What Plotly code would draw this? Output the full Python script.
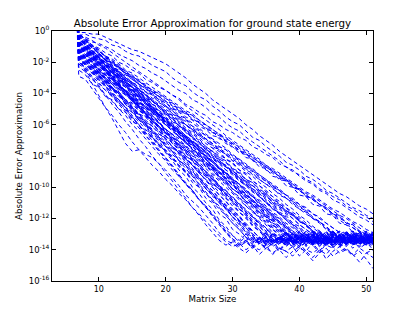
import plotly.graph_objects as go

# Matrix sizes (x); size 6 is an off-scale starting value for every series
matrix_sizes = list(range(6, 52))
log_err_at_size_6 = 10.0

# log10 of the absolute error for sizes 7..51
log_err_a1 = [-0.1,-0.1,-0.2,-0.2,-0.4, -0.6,-0.8,-1.0,-1.2,-1.3, -1.5,-1.7,-1.9,-2.1,-2.4, -2.7,-3.0,-3.4,-3.7,-4.0, -4.4,-4.7,-5.0,-5.3,-5.6, -6.0,-6.3,-6.7,-7.0,-7.3, -7.7,-8.0,-8.3,-8.6,-8.9, -9.2,-9.5,-9.8,-10.1,-10.4, -10.6,-10.9,-11.2,-11.4,-11.7]
log_err_a2 = [-0.3,-0.2,-0.4,-0.5,-0.6, -0.9,-1.0,-1.3,-1.5,-1.6, -1.9,-2.2,-2.4,-2.6,-3.0, -3.3,-3.5,-3.9,-4.2,-4.4, -4.8,-5.1,-5.5,-5.8,-6.0, -6.4,-6.8,-7.0,-7.4,-7.7, -8.0,-8.4,-8.6,-8.9,-9.3, -9.5,-9.8,-10.2,-10.4,-10.7, -11.0,-11.3,-11.5,-11.8,-12.0]
log_err_a3 = [-0.2,-0.5,-0.7,-0.8,-1.0, -1.2,-1.5,-1.7,-1.9,-2.2, -2.4,-2.7,-2.9,-3.2,-3.5, -3.8,-4.0,-4.4,-4.6,-4.9, -5.3,-5.5,-5.9,-6.2,-6.4, -6.8,-7.1,-7.4,-7.7,-8.0, -8.3,-8.7,-8.9,-9.3,-9.6, -9.8,-10.2,-10.4,-10.8,-11.0, -11.3,-11.6,-11.9,-12.1,-12.4]
log_err_a4 = [-0.5,-0.7,-1.0,-1.3,-1.6, -1.8,-2.1,-2.5,-2.7,-3.0, -3.3,-3.6,-3.9,-4.2,-4.5, -4.8,-5.1,-5.3,-5.7,-6.0, -6.3,-6.6,-6.9,-7.1,-7.5, -7.8,-8.1,-8.4,-8.7,-9.0, -9.3,-9.6,-9.9,-10.2,-10.5, -10.8,-11.1,-11.4,-11.7,-12.0, -12.2,-12.6,-12.8,-13.1,-13.0]
log_err_a5 = [-0.8,-1.0,-1.3,-1.6,-1.8, -2.1,-2.4,-2.7,-2.9,-3.2, -3.5,-3.8,-4.0,-4.3,-4.6, -4.9,-5.2,-5.4,-5.7,-6.0, -6.3,-6.6,-6.8,-7.2,-7.4, -7.7,-8.0,-8.3,-8.6,-8.8, -9.1,-9.4,-9.7,-10.0,-10.3, -10.5,-10.8,-11.1,-11.4,-11.6, -11.9,-12.2,-12.4,-12.7,-12.9]
log_err_a6 = [-0.3,-0.4,-0.6,-0.9,-1.1, -1.4,-1.7,-2.0,-2.3,-2.6, -2.9,-3.2,-3.5,-3.8,-4.1, -4.4,-4.8,-5.1,-5.4,-5.7, -6.0,-6.3,-6.7,-7.0,-7.3, -7.6,-7.9,-8.2,-8.6,-8.9, -9.2,-9.5,-9.8,-10.2,-10.5, -10.8,-11.1,-11.4,-11.8,-12.1, -12.4,-12.6,-12.9,-13.2,-13.1]
log_err_a7 = [-1.0,-1.2,-1.5,-1.8,-2.2, -2.5,-2.8,-3.1,-3.4,-3.7, -4.1,-4.4,-4.7,-5.0,-5.3, -5.6,-6.0,-6.3,-6.6,-6.9, -7.3,-7.6,-7.9,-8.2,-8.5, -8.8,-9.2,-9.5,-9.8,-10.1, -10.4,-10.7,-11.1,-11.4,-11.7, -12.0,-12.3,-12.7,-13.0,-13.2, -13.4,-13.1,-13.3,-13.5,-13.2]
log_err_a8 = [-0.4,-0.6,-0.9,-1.2,-1.6, -1.9,-2.2,-2.6,-2.9,-3.2, -3.6,-3.9,-4.2,-4.6,-4.9, -5.2,-5.6,-5.9,-6.2,-6.6, -6.9,-7.2,-7.5,-7.9,-8.2, -8.5,-8.9,-9.2,-9.5,-9.9, -10.2,-10.5,-10.9,-11.2,-11.5, -11.9,-12.2,-12.5,-12.9,-13.1, -13.3,-13.0,-13.4,-13.2,-13.6]
log_err_b1 = [-0.7,-1.1,-1.4,-1.7,-2.1, -2.4,-2.8,-3.1,-3.4,-3.8, -4.1,-4.5,-4.8,-5.2,-5.5, -5.8,-6.2,-6.5,-6.8,-7.2, -7.5,-7.9,-8.2,-8.5,-8.9, -9.2,-9.6,-9.9,-10.2,-10.6, -10.9,-11.3,-11.6,-11.9,-12.3, -12.6,-12.9,-13.2,-13.5,-13.3, -13.1,-13.4,-13.6,-13.2,-13.4]
log_err_b2 = [-1.2,-1.5,-1.9,-2.2,-2.6, -2.9,-3.3,-3.6,-4.0,-4.3, -4.7,-5.0,-5.4,-5.7,-6.1, -6.4,-6.8,-7.1,-7.5,-7.8, -8.2,-8.5,-8.9,-9.2,-9.6, -9.9,-10.3,-10.6,-11.0,-11.3, -11.7,-12.0,-12.4,-12.7,-13.1, -13.4,-13.2,-13.5,-13.7,-13.3, -13.5,-13.2,-13.6,-13.4,-13.1]
log_err_b3 = [-0.5,-0.9,-1.3,-1.5,-1.9, -2.3,-2.7,-3.0,-3.3,-3.8, -4.1,-4.4,-4.8,-5.2,-5.5, -5.9,-6.3,-6.6,-6.9,-7.4, -7.7,-8.0,-8.4,-8.8,-9.1, -9.5,-9.9,-10.2,-10.5,-11.0, -11.3,-11.6,-12.0,-12.4,-12.7, -13.1,-13.3,-13.0,-13.4,-13.6, -13.2,-13.5,-13.3,-13.7,-13.4]
log_err_b4 = [-0.9,-1.3,-1.6,-2.0,-2.4, -2.8,-3.1,-3.5,-3.9,-4.2, -4.6,-5.0,-5.4,-5.7,-6.1, -6.5,-6.8,-7.2,-7.6,-8.0, -8.3,-8.7,-9.1,-9.4,-9.8, -10.2,-10.5,-10.9,-11.3,-11.7, -12.0,-12.4,-12.8,-13.1,-13.4, -13.2,-13.6,-13.3,-13.5,-13.8, -13.4,-13.2,-13.5,-13.7,-13.3]
log_err_b5 = [-0.3,-0.7,-1.1,-1.4,-1.8, -2.2,-2.6,-3.0,-3.4,-3.7, -4.1,-4.5,-4.9,-5.3,-5.6, -6.0,-6.4,-6.8,-7.2,-7.6, -7.9,-8.3,-8.7,-9.1,-9.5, -9.8,-10.2,-10.6,-11.0,-11.4, -11.7,-12.1,-12.5,-12.9,-13.2, -13.5,-13.3,-13.6,-13.1,-13.4, -13.6,-13.3,-13.5,-13.2,-13.4]
log_err_b6 = [-1.4,-1.8,-2.2,-2.6,-3.0, -3.3,-3.7,-4.1,-4.5,-4.9, -5.3,-5.7,-6.1,-6.5,-6.9, -7.3,-7.6,-8.0,-8.4,-8.8, -9.2,-9.6,-10.0,-10.4,-10.8, -11.2,-11.6,-11.9,-12.3,-12.7, -13.1,-13.4,-13.2,-13.6,-13.3, -13.5,-13.8,-13.4,-13.2,-13.5, -13.3,-13.6,-13.4,-13.1,-13.5]
log_err_b7 = [-0.6,-1.0,-1.4,-1.8,-2.2, -2.6,-3.0,-3.4,-3.8,-4.2, -4.6,-5.0,-5.4,-5.8,-6.2, -6.6,-7.0,-7.4,-7.8,-8.2, -8.6,-9.0,-9.4,-9.8,-10.2, -10.6,-11.0,-11.4,-11.8,-12.2, -12.6,-13.0,-13.3,-13.5,-13.2, -13.4,-13.7,-13.3,-13.5,-13.2, -13.4,-13.6,-13.3,-13.5,-13.8]
log_err_b8 = [-1.0,-1.5,-1.8,-2.3,-2.6, -3.1,-3.4,-3.9,-4.2,-4.7, -5.1,-5.4,-5.9,-6.3,-6.6, -7.1,-7.5,-7.8,-8.3,-8.6, -9.1,-9.5,-9.8,-10.3,-10.7, -11.0,-11.5,-11.9,-12.2,-12.7, -13.0,-13.4,-13.2,-13.6,-13.3, -13.1,-13.5,-13.4,-13.7,-13.2, -13.5,-13.3,-13.6,-13.4,-13.2]
log_err_b9 = [-0.4,-0.9,-1.2,-1.7,-2.0, -2.5,-2.9,-3.2,-3.7,-4.1, -4.5,-4.9,-5.3,-5.8,-6.1, -6.6,-6.9,-7.4,-7.8,-8.2, -8.7,-9.0,-9.5,-9.8,-10.3, -10.7,-11.1,-11.6,-11.9,-12.4, -12.8,-13.1,-13.4,-13.2,-13.5, -13.3,-13.6,-13.2,-13.4,-13.7, -13.3,-13.5,-13.1,-13.4,-13.6]
log_err_b10 = [-1.6,-1.9,-2.4,-2.7,-3.0, -3.4,-3.8,-4.1,-4.4,-4.9, -5.2,-5.5,-5.9,-6.3,-6.6, -6.9,-7.4,-7.7,-8.0,-8.4, -8.8,-9.1,-9.4,-9.9,-10.2, -10.5,-10.9,-11.3,-11.6,-12.0, -12.3,-12.7,-13.0,-13.4,-13.2, -13.5,-13.3,-13.6,-13.4,-13.1, -13.4,-13.7,-13.3,-13.5,-13.2]
log_err_b11 = [-0.8,-1.1,-1.6,-1.9,-2.3, -2.6,-3.1,-3.4,-3.8,-4.2, -4.6,-4.9,-5.4,-5.7,-6.1, -6.5,-6.8,-7.3,-7.6,-8.0, -8.4,-8.8,-9.1,-9.6,-9.9, -10.3,-10.6,-11.1,-11.4,-11.8, -12.2,-12.5,-13.0,-13.3,-13.6, -13.3,-13.1,-13.5,-13.8,-13.4, -13.2,-13.5,-13.3,-13.6,-13.4]
log_err_b12 = [-1.8,-2.1,-2.6,-2.9,-3.4, -3.7,-4.2,-4.5,-5.0,-5.3, -5.8,-6.1,-6.6,-6.9,-7.4, -7.7,-8.2,-8.5,-9.0,-9.3, -9.8,-10.1,-10.6,-10.9,-11.4, -11.7,-12.2,-12.5,-13.0,-13.3, -13.5,-13.2,-13.6,-13.4,-13.1, -13.4,-13.7,-13.3,-13.5,-13.2, -13.6,-13.4,-13.2,-13.5,-13.3]
log_err_b13 = [-0.2,-0.6,-0.9,-1.3,-1.6, -2.0,-2.3,-2.7,-3.0,-3.4, -3.7,-4.1,-4.4,-4.8,-5.1, -5.5,-5.8,-6.2,-6.5,-6.9, -7.2,-7.6,-7.9,-8.3,-8.6, -9.0,-9.3,-9.7,-10.0,-10.4, -10.7,-11.1,-11.4,-11.8,-12.1, -12.5,-12.8,-13.2,-13.4,-13.1, -13.3,-13.6,-13.2,-13.4,-13.5]
log_err_b14 = [-1.2,-1.7,-1.9,-2.4,-2.7, -3.0,-3.5,-3.8,-4.1,-4.6, -4.9,-5.2,-5.7,-6.0,-6.4, -6.8,-7.1,-7.5,-7.9,-8.2, -8.6,-9.0,-9.3,-9.7,-10.1, -10.4,-10.8,-11.2,-11.5,-11.9, -12.3,-12.6,-13.0,-13.3,-13.5, -13.2,-13.4,-13.7,-13.3,-13.1, -13.4,-13.2,-13.6,-13.3,-13.5]
log_err_b15 = [-1.5,-1.8,-2.2,-2.4,-2.9, -3.1,-3.5,-3.8,-4.1,-4.5, -4.8,-5.1,-5.4,-5.8,-6.1, -6.4,-6.8,-7.1,-7.4,-7.8, -8.1,-8.4,-8.7,-9.1,-9.4, -9.7,-10.1,-10.4,-10.7,-11.1, -11.4,-11.7,-12.0,-12.4,-12.7, -13.0,-13.4,-13.2,-13.5,-13.3, -13.6,-13.2,-13.4,-13.1,-13.4]
log_err_b16 = [-0.2,-0.6,-1.1,-1.4,-1.9, -2.2,-2.7,-3.1,-3.5,-3.9, -4.3,-4.7,-5.1,-5.5,-5.9, -6.4,-6.8,-7.2,-7.6,-8.0, -8.4,-8.8,-9.2,-9.6,-10.0, -10.5,-10.9,-11.3,-11.7,-12.1, -12.5,-12.9,-13.3,-13.1,-13.5, -13.3,-13.6,-13.2,-13.4,-13.3, -13.5,-13.2,-13.4,-13.7,-13.3]
log_err_c1 = [-0.9,-1.4,-1.8,-2.2,-2.6, -3.1,-3.5,-3.9,-4.4,-4.8, -5.2,-5.6,-6.1,-6.5,-6.9, -7.4,-7.8,-8.2,-8.6,-9.1, -9.5,-9.9,-10.4,-10.8,-11.2, -11.6,-12.1,-12.5,-12.9,-13.3, -13.5,-13.2,-13.4,-13.7,-13.3, -13.1,-13.5,-13.3,-13.6,-13.4, -13.2,-13.5,-13.3,-13.6,-13.4]
log_err_c2 = [-1.3,-1.7,-2.2,-2.7,-3.1, -3.6,-4.0,-4.5,-4.9,-5.4, -5.8,-6.3,-6.8,-7.2,-7.6, -8.1,-8.5,-9.0,-9.4,-9.9, -10.4,-10.8,-11.3,-11.7,-12.1, -12.6,-13.0,-13.4,-13.2,-13.6, -13.3,-13.5,-13.8,-13.4,-13.2, -13.5,-13.3,-13.6,-13.4,-13.1, -13.4,-13.6,-13.3,-13.5,-13.2]
log_err_c3 = [-0.6,-1.1,-1.5,-2.0,-2.5, -3.0,-3.4,-3.9,-4.4,-4.8, -5.3,-5.8,-6.2,-6.7,-7.2, -7.6,-8.1,-8.6,-9.1,-9.5, -10.0,-10.5,-10.9,-11.4,-11.9, -12.3,-12.8,-13.2,-13.5,-13.3, -13.6,-13.4,-13.1,-13.5,-13.3, -13.7,-13.4,-13.2,-13.5,-13.3, -13.6,-13.3,-13.5,-13.2,-13.4]
log_err_c4 = [-1.0,-1.5,-2.0,-2.5,-3.0, -3.4,-3.9,-4.4,-4.9,-5.4, -5.9,-6.4,-6.9,-7.4,-7.9, -8.3,-8.8,-9.3,-9.8,-10.3, -10.8,-11.3,-11.8,-12.3,-12.7, -13.2,-13.5,-13.3,-13.7,-13.4, -13.2,-13.5,-13.3,-13.6,-13.4, -13.1,-13.4,-13.6,-13.3,-13.5, -13.2,-13.4,-13.7,-13.3,-13.5]
log_err_c5 = [-1.6,-2.1,-2.6,-3.1,-3.6, -4.2,-4.7,-5.2,-5.7,-6.2, -6.7,-7.2,-7.7,-8.2,-8.7, -9.3,-9.8,-10.3,-10.8,-11.3, -11.8,-12.3,-12.8,-13.3,-13.6, -13.4,-13.2,-13.6,-13.8,-13.4, -13.5,-13.3,-13.6,-13.2,-13.5, -13.4,-13.7,-13.3,-13.5,-13.2, -13.6,-13.4,-13.3,-13.5,-13.7]
log_err_c6 = [-2.0,-2.4,-2.9,-3.3,-3.8, -4.2,-4.6,-5.1,-5.5,-6.0, -6.4,-6.8,-7.3,-7.7,-8.2, -8.6,-9.0,-9.5,-9.9,-10.4, -10.8,-11.2,-11.7,-12.1,-12.6, -13.0,-13.4,-13.6,-13.3,-13.5, -13.2,-13.4,-13.7,-13.5,-13.3, -13.6,-13.4,-13.2,-13.5,-13.3, -13.4,-13.7,-13.5,-13.2,-13.4]
log_err_c7 = [-1.2,-1.8,-2.3,-2.8,-3.3, -3.9,-4.4,-4.9,-5.5,-6.0, -6.5,-7.0,-7.6,-8.1,-8.6, -9.2,-9.7,-10.2,-10.8,-11.3, -11.8,-12.4,-12.9,-13.4,-13.7, -13.5,-13.3,-13.6,-13.4,-13.8, -13.5,-13.3,-13.6,-13.9,-13.5, -13.4,-13.6,-13.3,-13.5,-13.8, -13.4,-13.6,-13.3,-13.5,-13.2]
log_err_c8 = [-0.3,-0.8,-1.2,-1.7,-2.2, -2.6,-3.1,-3.5,-4.0,-4.5, -4.9,-5.4,-5.8,-6.3,-6.7, -7.2,-7.7,-8.1,-8.6,-9.0, -9.5,-10.0,-10.4,-10.9,-11.3, -11.8,-12.3,-12.7,-13.2,-13.4, -13.2,-13.5,-13.3,-13.6,-13.4, -13.2,-13.5,-13.7,-13.3,-13.5, -13.3,-13.1,-13.4,-13.6,-13.3]
log_err_c9 = [-1.9,-2.5,-3.0,-3.6,-4.1, -4.7,-5.2,-5.8,-6.3,-6.9, -7.4,-8.0,-8.5,-9.1,-9.6, -10.2,-10.7,-11.3,-11.8,-12.4, -12.9,-13.4,-13.7,-13.5,-13.8, -13.5,-13.9,-13.6,-13.4,-13.7, -14.1,-13.6,-13.4,-13.8,-13.5, -13.7,-14.2,-13.6,-13.5,-13.8, -13.6,-13.4,-13.9,-13.6,-13.5]
log_err_s1 = [-1.5,-2.6,-3.4,-4.1,-4.9, -5.6,-6.4,-7.2,-7.7,-7.6, -7.9,-8.1,-8.5,-8.9,-9.4, -9.9,-10.5,-10.9,-11.3,-11.8, -12.3,-12.9,-13.4,-13.6,-13.9, -14.2,-13.8,-14.0,-13.7,-14.3, -13.9,-14.1,-13.8,-14.4,-14.0, -14.2,-13.9,-14.6,-14.1,-13.8, -14.0,-14.3,-13.9,-14.2,-14.0]
log_err_s2 = [-2.9,-3.1,-3.7,-4.3,-4.9, -5.4,-6.0,-6.5,-7.1,-7.6, -8.1,-8.6,-9.0,-9.5,-9.9, -10.4,-10.8,-11.3,-11.7,-12.2, -12.6,-13.1,-13.5,-13.8,-13.6, -14.0,-13.7,-14.3,-13.9,-13.6, -14.0,-14.5,-14.1,-13.8,-14.2, -14.7,-14.2,-13.9,-14.4,-14.1, -13.9,-14.3,-14.8,-14.2,-14.5]
log_err_d1 = [-0.7,-1.2,-1.6,-2.1,-2.6, -3.1,-3.6,-4.0,-4.5,-5.0, -5.5,-5.9,-6.4,-6.9,-7.4, -7.8,-8.3,-8.8,-9.3,-9.8, -10.2,-10.7,-11.2,-11.7,-12.1, -12.6,-13.1,-13.6,-13.9,-14.2, -13.9,-14.1,-14.4,-13.9,-14.1, -14.5,-14.0,-14.3,-13.8,-14.2, -14.0,-14.4,-14.1,-14.6,-15.2]
log_err_e1 = [-1.3,-1.6,-1.8,-2.1,-2.5, -2.7,-3.0,-3.3,-3.6,-3.9, -4.2,-4.5,-4.8,-5.1,-5.4, -5.7,-6.0,-6.3,-6.6,-6.9, -7.2,-7.5,-7.8,-8.1,-8.4, -8.7,-9.0,-9.3,-9.6,-9.9, -10.2,-10.5,-10.8,-11.1,-11.4, -11.7,-12.0,-12.3,-12.6,-12.9, -13.2,-13.4,-13.1,-13.3,-13.5]
log_err_e2 = [-1.5,-1.9,-2.4,-2.8,-3.2, -3.6,-4.0,-4.4,-4.9,-5.3, -5.7,-6.1,-6.5,-7.0,-7.4, -7.8,-8.2,-8.6,-9.1,-9.5, -9.9,-10.3,-10.7,-11.2,-11.6, -12.0,-12.4,-12.8,-13.3,-13.5, -13.3,-13.6,-13.4,-13.2,-13.5, -13.3,-13.6,-13.4,-13.1,-13.5, -13.4,-13.2,-13.5,-13.3,-13.6]
log_err_e3 = [-0.5,-0.9,-1.3,-1.7,-2.1, -2.5,-2.8,-3.2,-3.6,-4.0, -4.4,-4.8,-5.2,-5.6,-6.0, -6.3,-6.7,-7.1,-7.5,-7.9, -8.3,-8.7,-9.1,-9.5,-9.8, -10.2,-10.6,-11.0,-11.4,-11.8, -12.2,-12.6,-13.0,-13.3,-13.5, -13.2,-13.4,-13.6,-13.3,-13.5, -13.2,-13.4,-13.6,-13.4,-13.1]
log_err_e4 = [-0.8,-1.3,-1.7,-2.1,-2.6, -3.0,-3.4,-3.9,-4.3,-4.8, -5.2,-5.6,-6.1,-6.5,-7.0, -7.4,-7.8,-8.3,-8.7,-9.2, -9.6,-10.0,-10.5,-10.9,-11.4, -11.8,-12.2,-12.7,-13.1,-13.4, -13.6,-13.3,-13.5,-13.2,-13.4, -13.7,-13.4,-13.2,-13.5,-13.3, -13.5,-13.3,-13.6,-13.4,-13.2]
log_err_e5 = [-2.0,-2.3,-2.7,-3.0,-3.4, -3.7,-4.0,-4.4,-4.7,-5.1, -5.4,-5.7,-6.1,-6.4,-6.8, -7.1,-7.4,-7.8,-8.1,-8.5, -8.8,-9.1,-9.5,-9.8,-10.2, -10.5,-10.8,-11.2,-11.5,-11.9, -12.2,-12.5,-12.9,-13.2,-13.5, -13.3,-13.6,-13.4,-13.2,-13.5, -13.3,-13.6,-13.4,-13.2,-13.5]
log_err_e6 = [-0.4,-0.9,-1.4,-1.9,-2.4, -2.9,-3.4,-3.9,-4.4,-4.9, -5.4,-5.9,-6.4,-6.9,-7.4, -7.9,-8.4,-8.9,-9.4,-9.9, -10.4,-10.9,-11.4,-11.9,-12.4, -12.9,-13.3,-13.5,-13.2,-13.6, -13.4,-13.2,-13.5,-13.3,-13.7, -13.4,-13.2,-13.5,-13.3,-13.6, -13.4,-13.1,-13.5,-13.3,-13.6]
log_err_e7 = [-1.8,-2.1,-2.4,-2.7,-3.1, -3.4,-3.7,-4.0,-4.3,-4.6, -4.9,-5.2,-5.6,-5.9,-6.2, -6.5,-6.8,-7.1,-7.4,-7.7, -8.1,-8.4,-8.7,-9.0,-9.3, -9.6,-9.9,-10.3,-10.6,-10.9, -11.2,-11.5,-11.8,-12.1,-12.4, -12.8,-13.1,-13.4,-13.2,-13.5, -13.3,-13.6,-13.4,-13.2,-13.5]
log_err_e8 = [-2.3,-2.6,-3.0,-3.4,-3.8, -4.1,-4.5,-4.9,-5.2,-5.6, -6.0,-6.4,-6.7,-7.1,-7.5, -7.8,-8.2,-8.6,-9.0,-9.3, -9.7,-10.1,-10.4,-10.8,-11.2, -11.6,-11.9,-12.3,-12.7,-13.0, -13.4,-13.2,-13.5,-13.3,-13.6, -13.4,-13.2,-13.5,-13.7,-13.4, -13.2,-13.5,-13.3,-13.6,-13.4]
log_err_e9 = [-0.9,-1.1,-1.4,-1.7,-2.0, -2.3,-2.6,-2.8,-3.1,-3.4, -3.7,-3.9,-4.2,-4.5,-4.8, -5.1,-5.3,-5.6,-5.9,-6.2, -6.5,-6.7,-7.0,-7.3,-7.6, -7.9,-8.1,-8.4,-8.7,-9.0, -9.3,-9.5,-9.8,-10.1,-10.4, -10.6,-10.9,-11.2,-11.5,-11.8, -12.0,-12.3,-12.6,-12.9,-13.1]
log_err_e10 = [-1.7,-2.1,-2.6,-3.1,-3.5, -4.0,-4.4,-4.9,-5.4,-5.8, -6.3,-6.8,-7.2,-7.7,-8.1, -8.6,-9.1,-9.5,-10.0,-10.4, -10.9,-11.4,-11.8,-12.3,-12.7, -13.2,-13.5,-13.3,-13.6,-13.4, -13.2,-13.5,-13.7,-13.4,-13.3, -13.6,-13.4,-13.1,-13.5,-13.3, -13.6,-13.4,-13.2,-13.5,-13.3]
log_err_f1 = [-0.6,-0.8,-1.3,-1.4,-1.9, -2.0,-2.4,-2.5,-3.0,-3.1, -3.6,-3.7,-4.2,-4.3,-4.8, -4.9,-5.3,-5.4,-5.9,-6.0, -6.5,-6.6,-7.1,-7.2,-7.7, -7.8,-8.3,-8.4,-8.8,-8.9, -9.4,-9.5,-10.0,-10.1,-10.6, -10.7,-11.1,-11.3,-11.7,-11.8, -12.3,-12.4,-12.9,-13.0,-13.3]
log_err_f2 = [-1.1,-1.5,-1.7,-2.1,-2.3, -2.7,-2.9,-3.3,-3.6,-3.8, -4.3,-4.5,-4.8,-5.2,-5.4, -5.8,-6.0,-6.4,-6.7,-6.9, -7.4,-7.6,-7.9,-8.3,-8.5, -8.9,-9.1,-9.5,-9.8,-10.0, -10.5,-10.7,-11.0,-11.4,-11.6, -12.0,-12.2,-12.6,-12.9,-13.1, -12.9,-13.3,-13.0,-13.4,-12.8]
log_err_f3 = [-0.4,-0.8,-1.0,-1.5,-1.7, -2.1,-2.3,-2.8,-3.0,-3.4, -3.6,-4.1,-4.3,-4.8,-5.0, -5.4,-5.6,-6.1,-6.3,-6.7, -6.9,-7.4,-7.6,-8.0,-8.3, -8.7,-8.9,-9.4,-9.6,-10.0, -10.2,-10.7,-10.9,-11.3,-11.5, -12.0,-12.2,-12.7,-12.9,-13.3, -13.0,-12.8,-13.2,-13.5,-13.0]
log_err_f4 = [-0.9,-1.3,-1.5,-2.0,-2.2, -2.7,-2.9,-3.3,-3.6,-4.0, -4.3,-4.7,-4.9,-5.4,-5.6, -6.1,-6.3,-6.7,-7.0,-7.4, -7.7,-8.1,-8.3,-8.8,-9.0, -9.5,-9.7,-10.1,-10.4,-10.8, -11.1,-11.5,-11.7,-12.2,-12.4, -12.8,-13.2,-12.9,-13.4,-13.0, -12.8,-13.3,-13.6,-13.1,-12.9]
log_err_f5 = [-1.4,-1.8,-2.0,-2.5,-2.8, -3.1,-3.6,-3.8,-4.3,-4.5, -4.9,-5.3,-5.5,-6.0,-6.3, -6.6,-7.1,-7.3,-7.7,-8.1, -8.4,-8.8,-9.0,-9.5,-9.8, -10.1,-10.6,-10.8,-11.2,-11.6, -11.9,-12.3,-12.6,-13.0,-13.3, -12.9,-13.5,-13.1,-12.8,-13.4, -13.7,-13.0,-13.2,-12.8,-13.5]
log_err_f6 = [-0.7,-1.0,-1.5,-1.7,-2.2, -2.4,-2.9,-3.2,-3.6,-3.9, -4.4,-4.6,-5.1,-5.3,-5.8, -6.0,-6.5,-6.8,-7.2,-7.5, -8.0,-8.2,-8.7,-8.9,-9.4, -9.6,-10.1,-10.4,-10.8,-11.1, -11.6,-11.8,-12.3,-12.5,-13.0, -13.2,-12.8,-13.4,-13.1,-13.6, -12.9,-13.2,-13.5,-13.0,-13.3]
log_err_f7 = [-1.0,-1.4,-1.7,-2.2,-2.4, -2.9,-3.2,-3.6,-3.9,-4.4, -4.6,-5.1,-5.4,-5.8,-6.1, -6.6,-6.9,-7.3,-7.6,-8.1, -8.3,-8.8,-9.1,-9.5,-9.8, -10.3,-10.6,-11.0,-11.3,-11.8, -12.0,-12.5,-12.8,-13.2,-13.5, -13.0,-13.3,-12.8,-13.4,-13.1, -13.7,-13.2,-12.9,-13.4,-13.0]
log_err_f8 = [-0.3,-0.7,-1.0,-1.5,-1.8, -2.3,-2.5,-3.0,-3.3,-3.8, -4.0,-4.5,-4.8,-5.3,-5.6, -6.1,-6.3,-6.8,-7.1,-7.6, -7.8,-8.3,-8.6,-9.1,-9.4, -9.9,-10.1,-10.6,-10.9,-11.4, -11.6,-12.1,-12.4,-12.9,-13.2, -13.5,-13.0,-13.3,-12.8,-13.6, -13.2,-12.9,-13.5,-13.1,-13.4]
log_err_f9 = [-1.7,-2.1,-2.5,-2.8,-3.3, -3.6,-4.1,-4.4,-4.8,-5.3, -5.5,-6.0,-6.4,-6.7,-7.2, -7.5,-8.0,-8.3,-8.7,-9.2, -9.4,-9.9,-10.3,-10.6,-11.1, -11.4,-11.9,-12.2,-12.6,-13.0, -13.3,-12.9,-13.6,-13.2,-13.0, -13.5,-12.8,-13.3,-13.7,-13.1, -13.4,-12.9,-13.2,-13.6,-13.0]
log_err_f10 = [-0.5,-0.9,-1.4,-1.6,-2.2, -2.4,-2.9,-3.2,-3.8,-4.0, -4.5,-4.8,-5.4,-5.6,-6.1, -6.4,-7.0,-7.2,-7.7,-8.0, -8.6,-8.8,-9.3,-9.6,-10.2, -10.4,-10.9,-11.2,-11.8,-12.0, -12.5,-12.8,-13.2,-13.0,-13.5, -12.9,-13.3,-13.7,-13.1,-12.8, -13.4,-13.2,-13.6,-13.0,-13.3]
log_err_f11 = [-1.2,-1.7,-2.0,-2.5,-2.8, -3.3,-3.6,-4.1,-4.4,-4.9, -5.3,-5.8,-6.1,-6.6,-6.9, -7.4,-7.7,-8.2,-8.5,-9.0, -9.4,-9.9,-10.2,-10.7,-11.0, -11.5,-11.8,-12.3,-12.6,-13.1, -13.4,-12.9,-13.6,-13.2,-12.8, -13.3,-13.5,-13.0,-13.7,-13.2, -12.9,-13.4,-13.1,-13.6,-13.0]
log_err_f12 = [-0.8,-1.3,-1.6,-2.1,-2.5, -3.0,-3.3,-3.9,-4.2,-4.7, -5.0,-5.6,-5.9,-6.4,-6.8, -7.3,-7.6,-8.2,-8.5,-9.0, -9.3,-9.9,-10.2,-10.7,-11.1, -11.6,-11.9,-12.4,-12.8,-13.2, -13.5,-12.9,-13.3,-13.8,-13.1, -12.8,-13.4,-13.6,-13.0,-13.3, -12.9,-13.5,-13.2,-13.7,-13.1]
log_err_f13 = [-1.5,-2.0,-2.3,-2.9,-3.2, -3.8,-4.1,-4.7,-5.0,-5.6, -5.9,-6.5,-6.8,-7.4,-7.7, -8.3,-8.6,-9.2,-9.5,-10.1, -10.4,-11.0,-11.3,-11.9,-12.2, -12.8,-13.1,-13.5,-12.9,-13.3, -13.7,-13.0,-13.4,-12.8,-13.2, -13.6,-13.1,-13.5,-12.9,-13.3, -13.8,-13.2,-13.0,-13.4,-13.6]
log_err_f14 = [-0.6,-1.1,-1.5,-2.1,-2.4, -3.0,-3.4,-3.9,-4.3,-4.9, -5.3,-5.8,-6.2,-6.8,-7.1, -7.7,-8.1,-8.6,-9.0,-9.6, -10.0,-10.5,-10.9,-11.5,-11.8, -12.4,-12.8,-13.2,-13.6,-13.0, -13.3,-12.8,-13.5,-13.2,-13.8, -13.1,-12.9,-13.4,-13.6,-13.0, -13.3,-13.5,-12.9,-13.2,-13.7]
log_err_f15 = [-1.1,-1.7,-2.0,-2.7,-3.0, -3.7,-4.0,-4.7,-5.0,-5.7, -6.0,-6.7,-7.0,-7.7,-8.0, -8.7,-9.0,-9.7,-10.0,-10.7, -11.0,-11.7,-12.0,-12.7,-13.0, -13.4,-13.8,-13.2,-13.5,-13.0, -13.6,-13.3,-13.9,-13.4,-13.1, -13.6,-13.3,-13.8,-13.2,-13.5, -13.0,-13.7,-13.4,-13.2,-13.6]
log_err_f16 = [-0.9,-1.5,-1.9,-2.6,-3.0, -3.6,-4.0,-4.7,-5.1,-5.7, -6.1,-6.8,-7.2,-7.8,-8.3, -8.9,-9.3,-10.0,-10.4,-11.0, -11.4,-12.1,-12.5,-13.1,-13.5, -13.2,-13.7,-13.3,-14.0,-13.5, -13.2,-13.8,-13.4,-13.6,-14.1, -13.5,-13.3,-13.7,-13.9,-13.4, -13.6,-13.2,-13.8,-13.5,-14.0]
log_err_f17 = [-2.1,-2.5,-3.1,-3.5,-4.1, -4.5,-5.0,-5.4,-6.0,-6.4, -6.9,-7.4,-7.9,-8.3,-8.9, -9.3,-9.8,-10.2,-10.8,-11.2, -11.7,-12.2,-12.7,-13.1,-13.4, -13.0,-13.6,-13.2,-12.9,-13.5, -13.3,-13.8,-13.1,-13.4,-12.8, -13.6,-13.2,-13.5,-13.0,-13.7, -13.3,-13.1,-13.6,-13.4,-12.9]
log_err_f18 = [-0.5,-0.9,-1.0,-1.5,-1.6, -2.1,-2.2,-2.7,-2.8,-3.3, -3.4,-3.9,-4.0,-4.5,-4.6, -5.1,-5.2,-5.7,-5.8,-6.3, -6.4,-6.9,-7.0,-7.5,-7.6, -8.1,-8.2,-8.7,-8.8,-9.3, -9.4,-9.9,-10.0,-10.5,-10.6, -11.1,-11.2,-11.7,-11.8,-12.3, -12.4,-12.9,-13.0,-13.4,-13.0]
log_err_f19 = [-1.0,-1.2,-1.6,-1.8,-2.2, -2.3,-2.7,-2.9,-3.3,-3.5, -3.9,-4.0,-4.4,-4.6,-5.0, -5.1,-5.5,-5.7,-6.1,-6.3, -6.7,-6.8,-7.2,-7.4,-7.8, -7.9,-8.3,-8.5,-8.9,-9.1, -9.5,-9.6,-10.0,-10.2,-10.6, -10.7,-11.1,-11.3,-11.7,-11.9, -12.3,-12.4,-12.8,-13.0,-13.3]
log_err_f20 = [-1.6,-2.0,-2.2,-2.6,-2.8, -3.3,-3.5,-3.9,-4.1,-4.6, -4.8,-5.2,-5.4,-5.8,-6.0, -6.5,-6.7,-7.1,-7.3,-7.8, -8.0,-8.4,-8.6,-9.0,-9.2, -9.7,-9.9,-10.3,-10.5,-11.0, -11.2,-11.6,-11.8,-12.2,-12.4, -12.9,-13.1,-13.5,-12.9,-13.3, -13.6,-13.0,-13.4,-12.8,-13.2]
log_err_f21 = [-0.2,-0.5,-1.0,-1.2,-1.7, -1.9,-2.4,-2.7,-3.1,-3.4, -3.9,-4.1,-4.6,-4.8,-5.3, -5.5,-6.0,-6.3,-6.7,-7.0, -7.5,-7.7,-8.2,-8.4,-8.9, -9.1,-9.6,-9.9,-10.3,-10.6, -11.1,-11.3,-11.8,-12.0,-12.5, -12.8,-13.2,-13.5,-13.0,-13.3, -12.8,-13.6,-13.1,-13.4,-12.9]
log_err_f22 = [-1.3,-1.7,-2.0,-2.5,-2.8, -3.3,-3.5,-4.0,-4.3,-4.8, -5.0,-5.5,-5.8,-6.3,-6.6, -7.1,-7.3,-7.8,-8.1,-8.6, -8.9,-9.3,-9.6,-10.1,-10.4, -10.9,-11.1,-11.6,-11.9,-12.4, -12.7,-13.1,-13.4,-12.9,-13.2, -13.7,-13.0,-13.3,-13.5,-12.8, -13.4,-13.1,-13.6,-13.2,-12.9]
log_err_f23 = [-0.4,-0.9,-1.2,-1.7,-2.0, -2.6,-2.9,-3.4,-3.7,-4.2, -4.5,-5.1,-5.4,-5.9,-6.2, -6.8,-7.1,-7.6,-7.9,-8.4, -8.7,-9.3,-9.6,-10.1,-10.4, -11.0,-11.3,-11.8,-12.1,-12.6, -12.9,-13.3,-13.6,-13.0,-13.4, -12.8,-13.2,-13.5,-13.1,-13.7, -13.0,-13.3,-12.9,-13.5,-13.2]
log_err_f24 = [-1.9,-2.4,-2.7,-3.2,-3.5, -4.1,-4.4,-4.9,-5.2,-5.7, -6.0,-6.6,-6.9,-7.4,-7.7, -8.3,-8.6,-9.1,-9.4,-9.9, -10.2,-10.8,-11.1,-11.6,-11.9, -12.5,-12.8,-13.2,-13.5,-12.9, -13.3,-13.7,-13.0,-13.4,-13.2, -12.8,-13.5,-13.1,-13.6,-13.3, -12.9,-13.4,-13.0,-13.6,-13.2]
log_err_f25 = [-0.7,-1.0,-1.7,-2.0,-2.6, -2.9,-3.5,-3.8,-4.4,-4.7, -5.3,-5.6,-6.2,-6.5,-7.1, -7.4,-8.0,-8.3,-8.9,-9.2, -9.8,-10.1,-10.7,-11.0,-11.6, -11.9,-12.5,-12.8,-13.2,-13.6, -13.1,-13.4,-12.9,-13.3,-13.7, -13.0,-13.5,-13.2,-12.8,-13.4, -13.6,-13.1,-13.3,-12.9,-13.5]
log_err_f26 = [-1.2,-1.6,-1.8,-2.3,-2.5, -2.9,-3.1,-3.6,-3.8,-4.2, -4.4,-4.9,-5.1,-5.6,-5.8, -6.2,-6.4,-6.9,-7.1,-7.5, -7.7,-8.2,-8.4,-8.9,-9.1, -9.5,-9.7,-10.2,-10.4,-10.8, -11.0,-11.5,-11.7,-12.2,-12.4, -12.8,-13.0,-13.4,-12.9,-13.2, -13.6,-13.1,-12.8,-13.4,-13.0]
log_err_f27 = [-0.9,-1.2,-1.8,-2.0,-2.5, -2.8,-3.3,-3.6,-4.1,-4.3, -4.9,-5.1,-5.6,-6.0,-6.4, -6.7,-7.2,-7.5,-8.0,-8.2, -8.8,-9.0,-9.5,-9.9,-10.3, -10.6,-11.1,-11.4,-11.9,-12.1, -12.7,-12.9,-13.3,-13.6,-13.0, -13.4,-12.8,-13.2,-13.5,-13.0, -13.7,-13.3,-12.9,-13.4,-13.1]
log_err_f28 = [-2.5,-2.8,-3.4,-3.6,-4.2, -4.4,-5.0,-5.2,-5.8,-6.0, -6.6,-6.8,-7.4,-7.6,-8.2, -8.4,-9.0,-9.2,-9.8,-10.0, -10.6,-10.8,-11.4,-11.6,-12.2, -12.4,-13.0,-13.3,-13.7,-13.1, -13.4,-12.9,-13.6,-13.2,-13.5, -13.0,-13.8,-13.3,-13.1,-13.6, -13.2,-12.9,-13.5,-13.3,-13.7]
log_err_f29 = [-0.1,-0.6,-0.9,-1.5,-1.8, -2.4,-2.7,-3.2,-3.6,-4.1, -4.4,-5.0,-5.3,-5.9,-6.2, -6.8,-7.1,-7.6,-8.0,-8.5, -8.8,-9.4,-9.7,-10.3,-10.6, -11.2,-11.5,-12.0,-12.4,-12.9, -13.2,-13.5,-12.9,-13.3,-13.7, -13.1,-13.4,-12.8,-13.6,-13.2, -13.0,-13.5,-13.3,-12.9,-13.4]
log_err_f30 = [-1.4,-1.9,-2.5,-2.9,-3.5, -4.0,-4.6,-5.0,-5.6,-6.0, -6.7,-7.1,-7.7,-8.1,-8.7, -9.2,-9.8,-10.2,-10.8,-11.2, -11.9,-12.3,-12.9,-13.3,-13.7, -13.4,-13.9,-13.2,-13.6,-13.4, -14.0,-13.5,-13.2,-13.8,-13.4, -13.6,-14.1,-13.5,-13.3,-13.7, -13.5,-13.9,-13.4,-13.6,-13.3]
log_err_f31 = [-1.0,-1.3,-1.8,-2.0,-2.5, -2.7,-3.2,-3.4,-3.9,-4.1, -4.6,-4.9,-5.3,-5.6,-6.0, -6.3,-6.7,-7.0,-7.4,-7.7, -8.2,-8.4,-8.9,-9.1,-9.6, -9.8,-10.3,-10.5,-11.0,-11.2, -11.7,-11.9,-12.4,-12.6,-13.1, -13.4,-12.9,-13.3,-13.6,-13.0, -13.4,-12.8,-13.5,-13.2,-13.0]
log_err_f32 = [-1.8,-2.2,-2.5,-2.9,-3.2, -3.7,-3.9,-4.4,-4.6,-5.1, -5.3,-5.8,-6.1,-6.5,-6.8, -7.3,-7.5,-8.0,-8.2,-8.7, -8.9,-9.4,-9.7,-10.1,-10.4, -10.9,-11.1,-11.6,-11.8,-12.3, -12.5,-13.0,-13.3,-12.9,-13.5, -13.1,-13.7,-13.2,-12.8,-13.4, -13.0,-13.6,-13.3,-12.9,-13.5]
log_err_f33 = [-0.6,-1.1,-1.4,-1.9,-2.2, -2.7,-3.0,-3.5,-3.8,-4.3, -4.6,-5.2,-5.5,-6.0,-6.3, -6.8,-7.1,-7.6,-7.9,-8.4, -8.7,-9.3,-9.6,-10.1,-10.4, -10.9,-11.2,-11.7,-12.0,-12.5, -12.8,-13.2,-13.5,-12.9,-13.3, -13.6,-13.0,-13.4,-12.8,-13.2, -13.7,-13.1,-13.4,-13.0,-13.5]
log_err_f34 = [-1.3,-1.8,-2.2,-2.7,-3.1, -3.7,-4.0,-4.6,-4.9,-5.5, -5.9,-6.4,-6.8,-7.3,-7.7, -8.3,-8.6,-9.2,-9.5,-10.1, -10.5,-11.0,-11.4,-11.9,-12.3, -12.9,-13.2,-13.5,-13.1,-13.6, -13.3,-12.9,-13.4,-13.7,-13.2, -13.5,-13.0,-13.4,-13.8,-13.2, -13.5,-13.1,-13.6,-13.3,-13.0]
log_err_f35 = [-0.8,-1.2,-1.4,-1.8,-2.0, -2.4,-2.6,-3.0,-3.3,-3.6, -3.9,-4.3,-4.5,-4.9,-5.1, -5.5,-5.7,-6.1,-6.4,-6.7, -7.0,-7.4,-7.6,-8.0,-8.2, -8.6,-8.8,-9.2,-9.5,-9.8, -10.1,-10.5,-10.7,-11.1,-11.3, -11.7,-11.9,-12.3,-12.6,-12.9, -13.2,-13.5,-13.0,-13.3,-12.9]
log_err_f36 = [-0.3,-0.5,-0.9,-1.1,-1.4, -1.6,-2.0,-2.2,-2.5,-2.7, -3.1,-3.3,-3.6,-3.8,-4.1, -4.3,-4.7,-4.9,-5.2,-5.4, -5.8,-6.0,-6.3,-6.5,-6.8, -7.0,-7.4,-7.6,-7.9,-8.1, -8.5,-8.7,-9.0,-9.2,-9.5, -9.7,-10.1,-10.3,-10.6,-10.8, -11.2,-11.4,-11.7,-11.9,-12.2]

all_series = [
    log_err_a1, log_err_a2, log_err_a3, log_err_a4, log_err_a5, log_err_a6, log_err_a7, log_err_a8,
    log_err_b1, log_err_b2, log_err_b3, log_err_b4, log_err_b5, log_err_b6, log_err_b7, log_err_b8,
    log_err_b9, log_err_b10, log_err_b11, log_err_b12, log_err_b13, log_err_b14, log_err_b15, log_err_b16,
    log_err_c1, log_err_c2, log_err_c3, log_err_c4, log_err_c5, log_err_c6, log_err_c7, log_err_c8, log_err_c9,
    log_err_s1, log_err_s2, log_err_d1,
    log_err_e1, log_err_e2, log_err_e3, log_err_e4, log_err_e5, log_err_e6, log_err_e7, log_err_e8,
    log_err_e9, log_err_e10,
    log_err_f1, log_err_f2, log_err_f3, log_err_f4, log_err_f5, log_err_f6, log_err_f7, log_err_f8,
    log_err_f9, log_err_f10, log_err_f11, log_err_f12, log_err_f13, log_err_f14, log_err_f15, log_err_f16,
    log_err_f17, log_err_f18, log_err_f19, log_err_f20, log_err_f21, log_err_f22, log_err_f23, log_err_f24,
    log_err_f25, log_err_f26, log_err_f27, log_err_f28, log_err_f29, log_err_f30, log_err_f31, log_err_f32,
    log_err_f33, log_err_f34, log_err_f35, log_err_f36,
]

x_tick_vals = [10, 20, 30, 40, 50]
y_tick_exps = [-16, -14, -12, -10, -8, -6, -4, -2, 0]
y_tick_text = ["10<sup>-16</sup>", "10<sup>-14</sup>", "10<sup>-12</sup>", "10<sup>-10</sup>",
               "10<sup>-8</sup>", "10<sup>-6</sup>", "10<sup>-4</sup>", "10<sup>-2</sup>", "10<sup>0</sup>"]

fig = go.Figure()
for s in all_series:
    logs = [log_err_at_size_6] + s
    pts = list(zip(matrix_sizes, logs))
    fig.add_trace(go.Scatter(
        x=[p[0] for p in pts],
        y=[10 ** p[1] for p in pts],
        mode="lines",
        line=dict(color="#0000ff", width=1, dash="4px,3px"),
        showlegend=False,
        hoverinfo="skip",
    ))

font_family = "DejaVu Sans, Liberation Sans, sans-serif"
fig.update_layout(
    width=415, height=312,
    margin=dict(l=52, r=42, t=31, b=31, autoexpand=False),
    paper_bgcolor="white", plot_bgcolor="white",
    font=dict(family=font_family, size=8, color="black"),
    title=dict(text="Absolute Error Approximation for ground state energy",
               x=0.5, xref="paper", xanchor="center",
               y=1 - 23 / 312, yref="container", yanchor="middle",
               font=dict(size=10.3, color="black", family=font_family)),
)
fig.update_xaxes(
    range=[3, 51], tickvals=x_tick_vals, ticks="inside", ticklen=4, tickwidth=1,
    tickcolor="black", showline=True, linecolor="black", linewidth=1, mirror="ticks",
    showgrid=False, zeroline=False, automargin=False,
    title=dict(text="Matrix Size", standoff=3, font=dict(size=8.7)),
    tickfont=dict(size=8),
)
fig.update_yaxes(
    type="log", range=[-16, 0],
    tickvals=[10 ** e for e in y_tick_exps], ticktext=y_tick_text,
    ticks="inside", ticklen=4, tickwidth=1, tickcolor="black",
    showline=True, linecolor="black", linewidth=1, mirror="ticks",
    showgrid=False, zeroline=False, automargin=False,
    title=dict(text="Absolute Error Approximation", standoff=4, font=dict(size=8.7)),
    tickfont=dict(size=8.5),
)

fig.write_html(
    "out.html",
    config={"displayModeBar": False, "staticPlot": True},
    post_script="document.body.style.margin='0px';document.body.style.padding='0px';",
)
